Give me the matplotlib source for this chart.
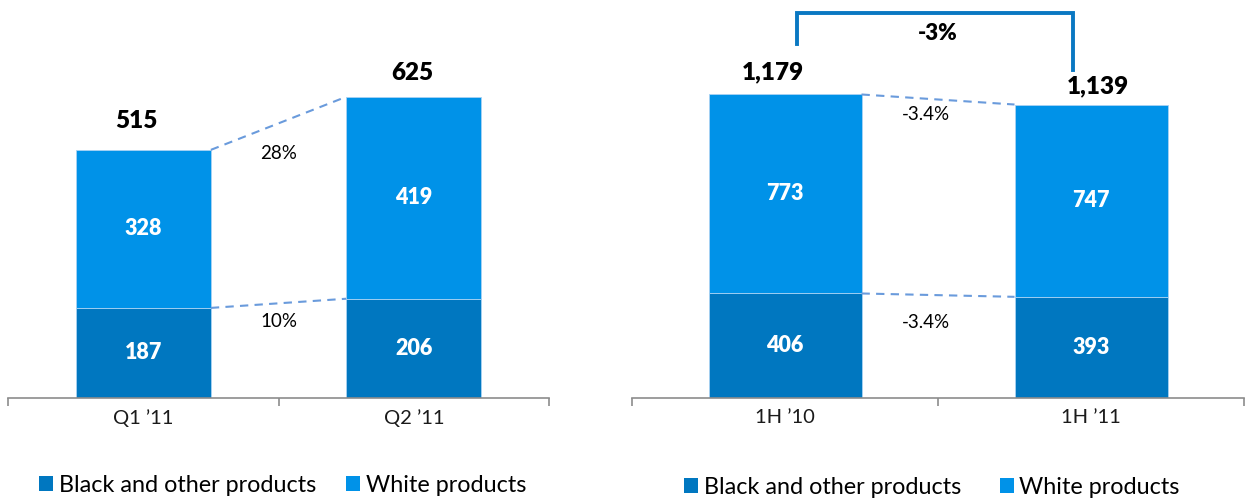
import matplotlib
matplotlib.use("Agg")
import matplotlib.pyplot as plt
import numpy as np

plt.rcParams['font.family'] = ['Lato', 'DejaVu Sans']

# ---- data ----
left_cats = ["Q1 \u201911", "Q2 \u201911"]
left_black = [187, 206]
left_white = [328, 419]
left_totals = ["515", "625"]
left_growth = ["28%", "10%"]  # white, black

right_cats = ["1H \u201910", "1H \u201911"]
right_black = [406, 393]
right_white = [773, 747]
right_totals = ["1,179", "1,139"]
right_growth = ["-3.4%", "-3.4%"]  # white, black
right_total_change = "-3%"

series_names = ["Black and other products", "White products"]

C_DARK = "#0077C0"
C_LIGHT = "#0092E8"
C_DASH = "#6A9BDC"
C_EDGE = "#A9D2F3"
BOLD = "heavy"

W, H = 1246, 500
fig = plt.figure(figsize=(W / 100, H / 100), dpi=100)

def px_axes(x0, x1, ybot, ytop):
    return fig.add_axes([x0 / W, 1 - ybot / H, (x1 - x0) / W, (ybot - ytop) / H])

ax_l = px_axes(8, 549, 398, 0)
ax_r = px_axes(632, 1244, 398, 0)

def draw_panel(ax, cats, black, white, totals, ymax, tot_offsets):
    x = np.arange(len(cats))
    b1 = ax.bar(x, black, width=0.5, color=C_DARK, edgecolor=C_EDGE, linewidth=0.6)
    b2 = ax.bar(x, white, width=0.5, bottom=black, color=C_LIGHT, edgecolor=C_EDGE, linewidth=0.6)
    ax.set_xlim(-0.5, len(cats) - 0.5)
    ax.set_ylim(0, ymax)
    for s in ["top", "left", "right"]:
        ax.spines[s].set_visible(False)
    ax.spines["bottom"].set_color("#8C8C8C")
    ax.spines["bottom"].set_linewidth(1.2)
    ax.set_yticks([])
    ax.set_xticks(x)
    ax.set_xticklabels(cats, fontsize=14.5, color="#1a1a1a")
    ax.tick_params(axis="x", which="major", length=0, pad=8)
    ax.set_xticks(np.arange(len(cats) + 1) - 0.5, minor=True)
    ax.tick_params(axis="x", which="minor", length=6, width=1.2, color="#8C8C8C", direction="out")
    tops = [b + w for b, w in zip(black, white)]
    for i in range(len(cats)):
        ax.text(x[i], black[i] / 2, str(black[i]), ha="center", va="center",
                color="white", fontsize=15.5, fontweight=BOLD)
        ax.text(x[i], black[i] + white[i] / 2, str(white[i]), ha="center", va="center",
                color="white", fontsize=15.5, fontweight=BOLD)
        ax.annotate(totals[i], (x[i], tops[i]), xytext=tot_offsets[i], textcoords="offset pixels",
                    ha="center", va="center", fontsize=17.5, fontweight=BOLD, color="black")
    # dashed connectors
    ax.plot([x[0] + 0.25, x[1] - 0.25], [tops[0], tops[1]], ls=(0, (4, 3)), color=C_DASH, lw=1.5)
    ax.plot([x[0] + 0.25, x[1] - 0.25], [black[0], black[1]], ls=(0, (4, 3)), color=C_DASH, lw=1.5)
    return b1, b2, tops

b1, b2, tops_l = draw_panel(ax_l, left_cats, left_black, left_white, left_totals, 826,
                            [(-7, 29), (-1, 24)])
ax_l.text(0.5, 507, left_growth[0], ha="center", va="center", fontsize=13.5)
ax_l.text(0.5, 158, left_growth[1], ha="center", va="center", fontsize=13.5)

r1, r2, tops_r = draw_panel(ax_r, right_cats, right_black, right_white, right_totals, 1546,
                            [(-12, 22), (7, 18)])
ax_r.text(0.46, 1103, right_growth[0], ha="center", va="center", fontsize=13.5)
ax_r.text(0.46, 295, right_growth[1], ha="center", va="center", fontsize=13.5)

# bracket for total change
yb_top = 1495
ax_r.plot([0.04, 0.04, 0.94, 0.94], [tops_r[0] + 196, yb_top, yb_top, tops_r[1] + 135],
          color="#0A78C2", lw=2.8, solid_joinstyle="miter", clip_on=False)
ax_r.text(0.5, 1415, right_total_change, ha="center", va="center", fontsize=16, fontweight=BOLD)

# legends
for handles, xpx, ypx, cs in [((b1, b2), 39, 485, 1.3), ((r1, r2), 684, 487, 1.65)]:
    fig.legend(handles, series_names, loc="center left",
               bbox_to_anchor=(xpx / W, 1 - ypx / H), bbox_transform=fig.transFigure,
               ncol=2, frameon=False, fontsize=16.8, handlelength=0.6, handleheight=0.6,
               handletextpad=0.25, columnspacing=cs, borderpad=0, borderaxespad=0)

for lg in fig.legends:
    for p in lg.legend_handles:
        p.set_edgecolor("none")

fig.savefig("out.png", dpi=100)
